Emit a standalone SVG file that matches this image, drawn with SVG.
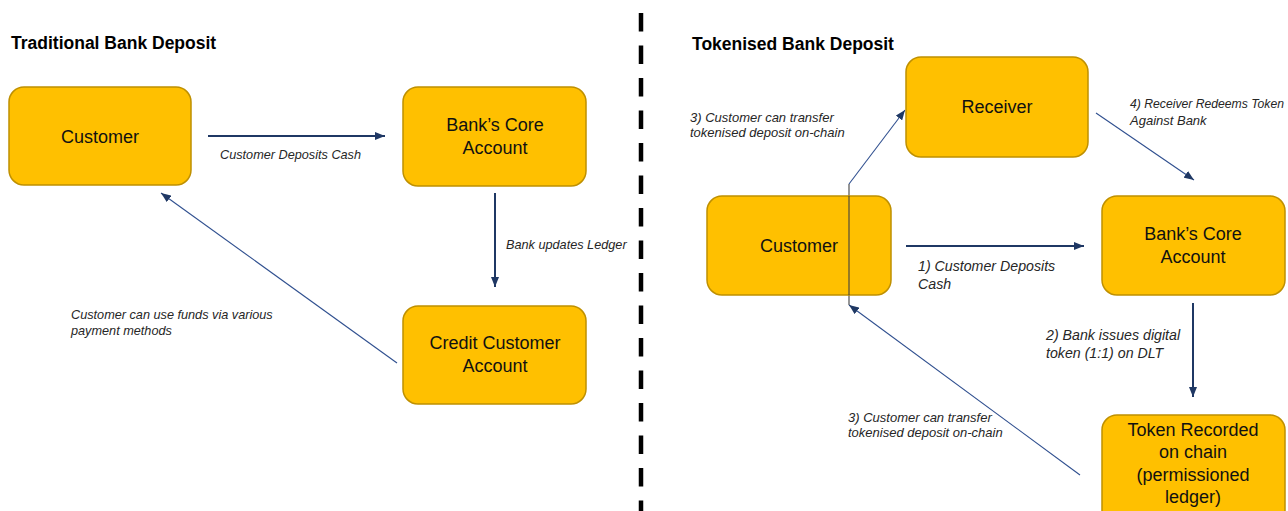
<svg xmlns="http://www.w3.org/2000/svg" width="1288" height="511" viewBox="0 0 1288 511">
<style>
.box{fill:#FFC000;stroke:#BF9000;stroke-width:1.5}
.nt{font-family:"Liberation Sans",Arial,sans-serif;font-size:18px;fill:#111;text-anchor:middle}
.lb{font-family:"Liberation Sans",Arial,sans-serif;font-size:12.7px;font-style:italic;fill:#262626}
.lb13{font-size:13px}
.lb14{font-size:14.2px}
.ttl{font-family:"Liberation Sans",Arial,sans-serif;font-size:17.5px;font-weight:bold;fill:#000}
.thick{stroke:#1F3864;stroke-width:2;fill:none}
.thin{stroke:#2F4F8F;stroke-width:1.1;fill:none}
.grey{stroke:#404040;stroke-width:1.1;fill:none}
</style>
<defs>
<marker id="ah" viewBox="0 0 10 8" refX="10" refY="4" markerWidth="10" markerHeight="8" markerUnits="userSpaceOnUse" orient="auto">
<path d="M0,0 L10,4 L0,8 z" fill="#1F3864"/>
</marker>
<marker id="ahs" viewBox="0 0 10 8" refX="10" refY="4" markerWidth="10" markerHeight="8" markerUnits="userSpaceOnUse" orient="auto">
<path d="M0,0 L10,4 L0,8 z" fill="#1F3864"/>
</marker>
</defs>
<rect width="1288" height="511" fill="#fff"/>

<text class="ttl" x="11" y="49">Traditional Bank Deposit</text>
<text class="ttl" x="692" y="50">Tokenised Bank Deposit</text>

<line x1="641" y1="13" x2="641" y2="511" stroke="#000" stroke-width="4.5" stroke-dasharray="18.5 14"/>

<g id="connectors">
<line class="thick" x1="208" y1="136" x2="385" y2="136" marker-end="url(#ah)"/>
<line class="thick" x1="495" y1="193" x2="495" y2="287" marker-end="url(#ah)"/>
<line class="thin" x1="397" y1="363" x2="161" y2="193" marker-end="url(#ahs)"/>
<line class="thick" x1="906" y1="246" x2="1084" y2="246" marker-end="url(#ah)"/>
<line class="thick" x1="1193" y1="303" x2="1193" y2="397" marker-end="url(#ah)"/>
<line class="thin" x1="1096" y1="113" x2="1194" y2="180" marker-end="url(#ahs)"/>
<line class="grey" x1="849" y1="184" x2="849" y2="305"/>
<line class="thin" x1="849" y1="184" x2="905" y2="110" marker-end="url(#ahs)"/>
<line class="thin" x1="1080" y1="475" x2="849" y2="305" marker-end="url(#ahs)"/>
</g>

<g id="labels">
<text class="lb" x="220" y="159">Customer Deposits Cash</text>
<text class="lb" x="506" y="249">Bank updates Ledger</text>
<text class="lb" x="71" y="319">Customer can use funds via various</text>
<text class="lb" x="71" y="335">payment methods</text>
<text class="lb lb13" x="690" y="122">3) Customer can transfer</text>
<text class="lb lb13" x="690" y="137">tokenised deposit on-chain</text>
<text class="lb" x="1130" y="108" style="font-size:12.2px">4) Receiver Redeems Token</text>
<text class="lb lb13" x="1130" y="125">Against Bank</text>
<text class="lb lb14" x="918" y="271">1) Customer Deposits</text>
<text class="lb lb14" x="918" y="289">Cash</text>
<text class="lb lb14" x="1046" y="340">2) Bank issues digital</text>
<text class="lb lb14" x="1046" y="358">token (1:1) on DLT</text>
<text class="lb lb13" x="848" y="422">3) Customer can transfer</text>
<text class="lb lb13" x="848" y="437">tokenised deposit on-chain</text>
</g>

<g id="node-customer-left">
<rect class="box" x="9" y="87" width="182" height="98" rx="15"/>
<text class="nt" x="100" y="143">Customer</text>
</g>
<g id="node-bank-core-left">
<rect class="box" x="403" y="87" width="183" height="99" rx="15"/>
<text class="nt" x="495" y="131">Bank’s Core</text>
<text class="nt" x="495" y="154">Account</text>
</g>
<g id="node-credit-customer">
<rect class="box" x="403" y="306" width="183" height="98" rx="15"/>
<text class="nt" x="495" y="349">Credit Customer</text>
<text class="nt" x="495" y="372">Account</text>
</g>

<g id="node-receiver">
<rect class="box" x="906" y="57" width="182" height="100" rx="15"/>
<text class="nt" x="997" y="113">Receiver</text>
</g>
<g id="node-customer-right">
<rect class="box" x="707" y="196" width="184" height="99" rx="15"/>
<text class="nt" x="799" y="252">Customer</text>
</g>
<g id="node-bank-core-right">
<rect class="box" x="1102" y="196" width="183" height="99" rx="15"/>
<text class="nt" x="1193" y="240">Bank’s Core</text>
<text class="nt" x="1193" y="263">Account</text>
</g>
<g id="node-token-recorded">
<rect class="box" x="1102" y="415" width="183" height="115" rx="15"/>
<text class="nt" x="1193" y="436">Token Recorded</text>
<text class="nt" x="1193" y="458">on chain</text>
<text class="nt" x="1193" y="481">(permissioned</text>
<text class="nt" x="1193" y="503">ledger)</text>
</g>
<line class="grey" x1="849" y1="196" x2="849" y2="295"/>
</svg>
